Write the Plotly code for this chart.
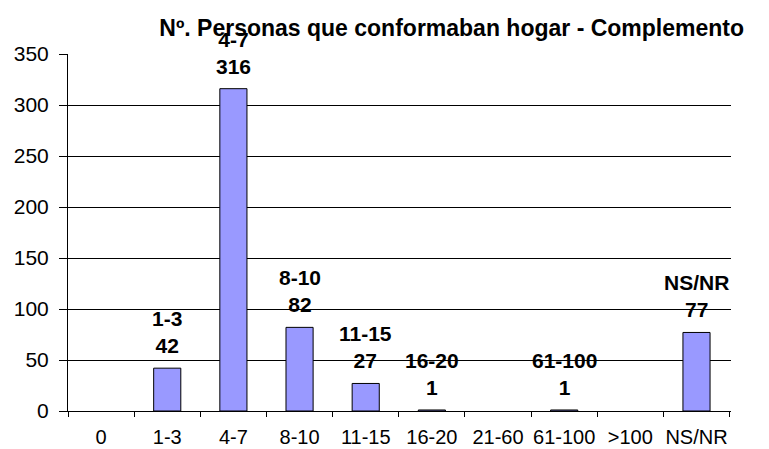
import plotly.graph_objects as go

categories = ["0", "1-3", "4-7", "8-10", "11-15", "16-20", "21-60", "61-100", ">100", "NS/NR"]
values = [0, 42, 316, 82, 27, 1, 0, 1, 0, 77]
y_ticks = [0, 50, 100, 150, 200, 250, 300, 350]

FONT = "Liberation Sans, Arial"

fig = go.Figure()

# empty categories get no bar at all (no outline either)
fig.add_bar(
    x=categories,
    y=[v if v > 0 else None for v in values],
    marker=dict(color="#9999FF", line=dict(color="black", width=1)),
    width=0.41,
)

# data labels "category / value" over the non-empty bars
for c, v in zip(categories, values):
    if v > 0:
        fig.add_annotation(
            x=c,
            y=v,
            text=f"<b>{c}<br>{v}</b>",
            showarrow=False,
            yanchor="bottom",
            yshift=9,
            font=dict(family=FONT, size=21, color="black"),
        )

fig.update_layout(
    width=761,
    height=441,
    margin=dict(l=60, r=38, t=46, b=38),
    plot_bgcolor="white",
    paper_bgcolor="white",
    showlegend=False,
    font=dict(family=FONT, size=21, color="black"),
    title=dict(
        text="<b>Nº. Personas que conformaban hogar - Complemento</b>",
        x=0.583,
        xanchor="center",
        y=0.955,
        yanchor="middle",
        font=dict(family=FONT, size=23, color="black"),
    ),
)

# x axis
fig.update_xaxes(
    type="category",
    showline=True,
    linecolor="black",
    linewidth=1,
    ticks="outside",
    tickson="boundaries",
    ticklen=5,
    tickcolor="black",
    showgrid=False,
    tickangle=0,
    automargin=False,
    ticklabelstandoff=8,
    tickfont=dict(size=20),
)

# y axis
fig.update_yaxes(
    range=[0, 350],
    tickvals=y_ticks,
    showline=True,
    linecolor="black",
    linewidth=1,
    ticks="outside",
    ticklen=8,
    tickcolor="black",
    showgrid=True,
    gridcolor="black",
    gridwidth=1,
    zeroline=False,
    automargin=False,
    ticklabelstandoff=6,
    tickfont=dict(size=21),
)

fig.write_html("out.html")
